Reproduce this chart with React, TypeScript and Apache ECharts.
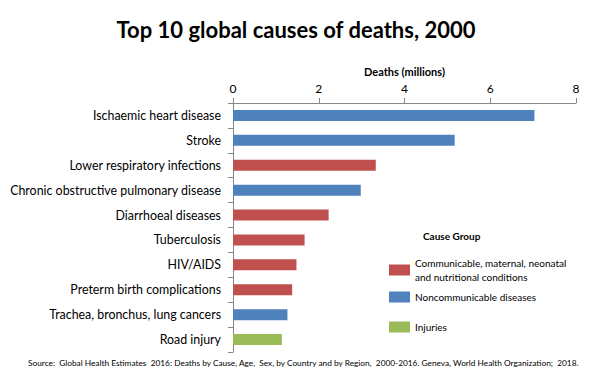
import React, { useEffect, useRef } from "react";
import * as echarts from "echarts";

const categories = [
  "Ischaemic heart disease",
  "Stroke",
  "Lower respiratory infections",
  "Chronic obstructive pulmonary disease",
  "Diarrhoeal diseases",
  "Tuberculosis",
  "HIV/AIDS",
  "Preterm birth complications",
  "Trachea, bronchus, lung cancers",
  "Road injury",
];

const deaths = [7.03, 5.17, 3.33, 2.98, 2.23, 1.67, 1.48, 1.38, 1.27, 1.14];

const groupOf = ["N", "N", "C", "N", "C", "C", "C", "C", "N", "I"];

const groups = [
  { key: "C", name: "Communicable, maternal, neonatal\nand nutritional conditions", color: "#C0504D" },
  { key: "N", name: "Noncommunicable diseases", color: "#4F81BD" },
  { key: "I", name: "Injuries", color: "#9BBB59" },
];

const xTicks = { min: 0, max: 8, interval: 2 };

const FONT = "Lato, 'Liberation Sans', sans-serif";

export default function App() {
  const ref = useRef<HTMLDivElement>(null);
  useEffect(() => {
    if (!ref.current) return;
    const chart = echarts.init(ref.current, undefined, { renderer: "svg" });
    const axisColor = "#868686";
    const legendTops = [256, 290, 320];
    chart.setOption({
      animation: false,
      backgroundColor: "#ffffff",
      textStyle: { fontFamily: FONT },
      title: [
        {
          text: "Top 10 global causes of deaths, 2000",
          left: "center",
          top: 13,
          textStyle: { fontFamily: FONT, fontSize: 22, fontWeight: "bold", color: "#000" },
        },
        {
          text: "Cause Group",
          left: 418,
          top: 226,
          textStyle: { fontFamily: FONT, fontSize: 10, fontWeight: "bold", color: "#000" },
        },
        {
          text: "Source:  Global Health Estimates  2016: Deaths by Cause, Age,  Sex, by Country and by Region,  2000-2016. Geneva, World Health Organization;  2018.",
          left: 28,
          top: 359,
          padding: 0,
          textStyle: { fontFamily: FONT, fontSize: 8.3, fontWeight: "normal", color: "#000" },
        },
      ],
      legend: groups.map((g, i) => ({
        orient: "vertical",
        left: 389,
        top: legendTops[i],
        padding: 0,
        itemWidth: 21,
        itemHeight: 11,
        itemGap: 0,
        icon: "rect",
        textStyle: { fontFamily: FONT, fontSize: 10, color: "#000", lineHeight: 14 },
        data: [g.name],
      })),
      grid: { left: 233, top: 103, width: 343, height: 249, containLabel: false },
      xAxis: {
        type: "value",
        position: "top",
        min: xTicks.min,
        max: xTicks.max,
        interval: xTicks.interval,
        name: "Deaths (millions)",
        nameLocation: "middle",
        nameGap: 26,
        nameTextStyle: { fontFamily: FONT, fontSize: 11, fontWeight: "bold", color: "#000" },
        axisLine: { show: true, lineStyle: { color: axisColor } },
        axisTick: { show: true, length: 5, lineStyle: { color: axisColor } },
        axisLabel: { fontFamily: FONT, fontSize: 12, color: "#000", margin: 9 },
        splitLine: { show: false },
      },
      yAxis: {
        type: "category",
        inverse: true,
        data: categories,
        axisLine: { show: true, lineStyle: { color: axisColor } },
        axisTick: { show: true, length: 5, lineStyle: { color: axisColor } },
        axisLabel: { fontFamily: FONT, fontSize: 12.4, color: "#000", margin: 12 },
        splitLine: { show: false },
      },
      series: groups.map((g) => ({
        type: "bar",
        name: g.name,
        stack: "total",
        barWidth: 11,
        itemStyle: { color: g.color },
        data: deaths.map((v, i) => (groupOf[i] === g.key ? v : null)),
      })),
    });
    return () => chart.dispose();
  }, []);
  return <div ref={ref} style={{ width: 592, height: 376, margin: -8 }} />;
}
